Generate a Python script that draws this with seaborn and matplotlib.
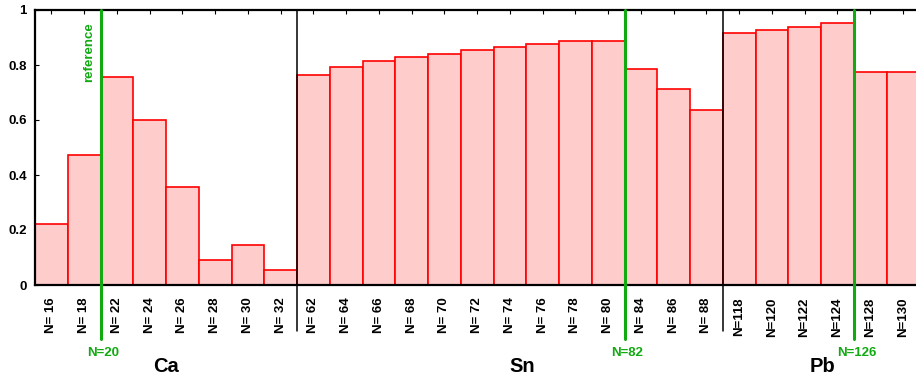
import matplotlib
matplotlib.use("Agg")
import matplotlib.pyplot as plt
import seaborn as sns
import pandas as pd

# ---- data ----
neutrons = [16, 18, 22, 24, 26, 28, 30, 32,
            62, 64, 66, 68, 70, 72, 74, 76, 78, 80, 84, 86, 88,
            118, 120, 122, 124, 128, 130]
values = [0.222, 0.473, 0.756, 0.600, 0.356, 0.091, 0.145, 0.055,
          0.764, 0.793, 0.815, 0.829, 0.840, 0.855, 0.865, 0.876, 0.887, 0.889,
          0.785, 0.713, 0.636,
          0.917, 0.928, 0.939, 0.953, 0.776, 0.774]
elements = ["Ca", "Sn", "Pb"]
group_sizes = [8, 13, 6]
magic_labels = ["N=20", "N=82", "N=126"]
magic_after = [18, 80, 124]   # magic line placed right after this N
yticks = [0, 0.2, 0.4, 0.6, 0.8, 1]
ytick_labels = ["0", "0.2", "0.4", "0.6", "0.8", "1"]

labels = [f"N={n}" if n >= 100 else f"N= {n}" for n in neutrons]
df = pd.DataFrame({"label": labels, "value": values})

sns.set_theme(style="white")
plt.rcParams["font.family"] = ["Liberation Sans", "DejaVu Sans"]
plt.rcParams["font.weight"] = "bold"
plt.rcParams["text.color"] = "black"
plt.rcParams["xtick.color"] = "black"
plt.rcParams["ytick.color"] = "black"
plt.rcParams["axes.labelcolor"] = "black"

fig = plt.figure(figsize=(9.16, 3.76), dpi=100)
W, H = 916, 376
left_px, top_px, bottom_px = 35, 10, 285
bar_px = 32.75
ax = fig.add_axes([left_px / W, (H - bottom_px) / H,
                   len(neutrons) * bar_px / W, (bottom_px - top_px) / H])

sns.barplot(data=df, x="label", y="value", ax=ax, color="#ffcccc",
            saturation=1, width=1.0, edgecolor="#ff0000", linewidth=1.2)

ax.set_xlim(-0.5, len(neutrons) - 0.5)
ax.set_ylim(0, 1)
ax.set_xlabel("")
ax.set_ylabel("")
ax.set_yticks(yticks)
ax.set_yticklabels(ytick_labels, fontsize=9.5, fontweight="bold")
ax.tick_params(axis="y", direction="in", length=3, width=0.8, color="black",
               labelcolor="black", left=True, right=False, pad=6)
ax.tick_params(axis="x", direction="in", length=0, pad=9,
               labelcolor="black", bottom=True, top=False)
plt.setp(ax.get_xticklabels(), rotation=90, fontsize=9.5, fontweight="bold",
         va="top", ha="center", color="black")

# top ticks at bar centers
sec = ax.secondary_xaxis("top")
sec.set_xticks(range(len(neutrons)))
sec.set_xticklabels([])
sec.tick_params(axis="x", direction="in", length=3, width=0.8, color="black")
sec.spines["top"].set_visible(False)

for s in ["left", "top", "bottom"]:
    ax.spines[s].set_color("black")
    ax.spines[s].set_linewidth(1.6)
ax.spines["right"].set_visible(False)

# element separators and labels
label_shift = [0.0, 0.37, 0.05]
start = 0
for i, (el, n) in enumerate(zip(elements, group_sizes)):
    center = start + (n - 1) / 2 + label_shift[i]
    ax.text(center, -0.295, el, ha="center", va="center", fontsize=14.5,
            fontweight="bold", color="black", clip_on=False)
    if i < len(elements) - 1:
        xb = start + n - 0.5
        ax.plot([xb, xb], [1, -0.166], color="black", lw=1.1, clip_on=False,
                zorder=5)
    start += n

# magic number reference lines
green = "#11aa11"
for lab, after in zip(magic_labels, magic_after):
    xg = neutrons.index(after) + 0.5
    ax.plot([xg, xg], [1, -0.196], color=green, lw=2.2, clip_on=False,
            zorder=6)
    ax.text(xg + 0.08, -0.247, lab, ha="center", va="center", fontsize=9.5,
            fontweight="bold", color=green, clip_on=False)

ax.text(neutrons.index(magic_after[0]) + 0.15, 0.847, "reference", rotation=90,
        ha="center", va="center", fontsize=9.5, fontweight="bold", color=green)

fig.savefig("out.png", dpi=100)
